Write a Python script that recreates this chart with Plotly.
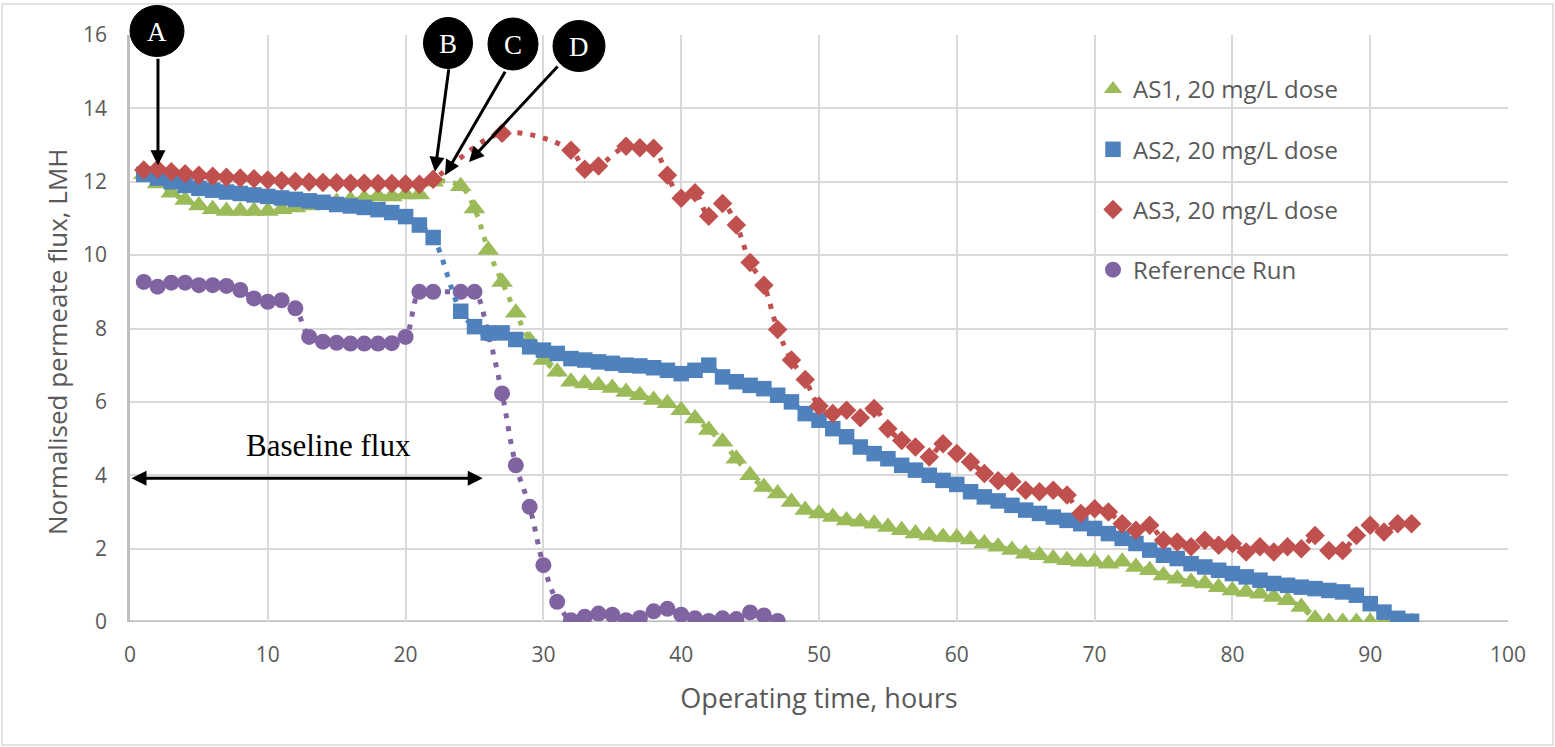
import plotly.graph_objects as go

# ---------------- data ----------------
as1_hours = list(range(1, 23)) + list(range(24, 94))
as1_flux = [12.2, 11.95, 11.7, 11.5, 11.35, 11.25, 11.2, 11.2, 11.2, 11.2,
            11.25, 11.3, 11.35, 11.4, 11.45, 11.5, 11.55, 11.6, 11.6, 11.65,
            11.65, 12.0,
            11.88, 11.27, 10.14, 9.27, 8.43, 7.68, 7.14, 6.82, 6.55, 6.5,
            6.45, 6.38, 6.27, 6.18, 6.05, 5.96, 5.77, 5.55, 5.23, 4.91,
            4.45, 4.0, 3.68, 3.5, 3.27, 3.05, 2.96, 2.86, 2.77, 2.73,
            2.68, 2.59, 2.5, 2.41, 2.36, 2.32, 2.3, 2.25, 2.14, 2.05,
            1.96, 1.86, 1.82, 1.73, 1.68, 1.64, 1.64, 1.59, 1.64, 1.5,
            1.41, 1.27, 1.18, 1.09, 1.05, 0.95, 0.86, 0.82, 0.77, 0.68,
            0.59, 0.41, 0.09, 0.0, 0.0, 0.0, 0.0, 0.0, 0.0, 0.0]

as2_hours = list(range(1, 23)) + list(range(24, 94))
as2_flux = [12.2, 12.1, 12.0, 11.9, 11.82, 11.77, 11.72, 11.68, 11.64, 11.6,
            11.56, 11.52, 11.48, 11.44, 11.38, 11.34, 11.3, 11.24, 11.16, 11.05,
            10.82, 10.48,
            8.47, 8.05, 7.88, 7.88, 7.7, 7.5, 7.41, 7.32, 7.18, 7.14,
            7.09, 7.05, 7.0, 6.98, 6.93, 6.86, 6.77, 6.86, 7.0, 6.68,
            6.55, 6.45, 6.36, 6.18, 6.0, 5.68, 5.5, 5.27, 5.05, 4.77,
            4.59, 4.45, 4.27, 4.14, 4.0, 3.86, 3.75, 3.55, 3.41, 3.3,
            3.18, 3.05, 2.96, 2.86, 2.77, 2.68, 2.55, 2.41, 2.28, 2.14,
            1.96, 1.82, 1.73, 1.59, 1.5, 1.41, 1.32, 1.23, 1.14, 1.05,
            1.0, 0.95, 0.91, 0.86, 0.82, 0.73, 0.5, 0.27, 0.1, 0.02]

as3_hours = list(range(1, 23)) + [27, 32, 33, 34] + list(range(36, 94))
as3_flux = [12.32, 12.35, 12.27, 12.22, 12.18, 12.15, 12.12, 12.1, 12.08, 12.05,
            12.03, 12.01, 11.99, 11.98, 11.97, 11.96, 11.96, 11.95, 11.95, 11.94,
            11.93, 12.07,
            13.32, 12.86, 12.34, 12.43,
            12.97, 12.93, 12.91, 12.18, 11.55, 11.7, 11.06, 11.41, 10.82, 9.8,
            9.18, 7.97, 7.14, 6.61, 5.89, 5.68, 5.77, 5.57, 5.82, 5.27,
            4.95, 4.77, 4.5, 4.86, 4.59, 4.36, 4.05, 3.85, 3.82, 3.59,
            3.55, 3.59, 3.46, 2.96, 3.09, 3.0, 2.68, 2.5, 2.64, 2.23,
            2.18, 2.05, 2.23, 2.09, 2.14, 1.91, 2.05, 1.91, 2.05, 2.0,
            2.36, 1.95, 1.95, 2.36, 2.64, 2.45, 2.68, 2.68]

ref_hours = list(range(1, 23)) + list(range(24, 48))
ref_flux = [9.27, 9.14, 9.25, 9.25, 9.18, 9.18, 9.16, 9.05, 8.82, 8.73,
            8.77, 8.55, 7.77, 7.64, 7.61, 7.59, 7.59, 7.59, 7.6, 7.77,
            9.0, 9.0,
            9.0, 9.0, 7.86, 6.23, 4.27, 3.14, 1.55, 0.55, 0.05, 0.14,
            0.23, 0.2, 0.05, 0.11, 0.29, 0.36, 0.2, 0.1, 0.03, 0.1,
            0.08, 0.26, 0.18, 0.03]

series_names = ["AS1, 20 mg/L dose", "AS2, 20 mg/L dose",
                "AS3, 20 mg/L dose", "Reference Run"]

# ---------------- layout helpers ----------------
W, H = 1555, 747
ML, MR, MT, MB = 130, 47, 35, 125
PW, PH = W - ML - MR, H - MT - MB


def px(x):
    return (x - ML) / PW


def py(y):
    return (H - MB - y) / PH


font_sans = "Open Sans"
grey_text = "#595959"

fig = go.Figure()

styles = {
    "AS1, 20 mg/L dose": dict(color="#9BBB59", symbol="triangle-up", size=19),
    "AS2, 20 mg/L dose": dict(color="#4F81BD", symbol="square", size=15.5),
    "AS3, 20 mg/L dose": dict(color="#C0504D", symbol="diamond", size=15),
    "Reference Run": dict(color="#8064A2", symbol="circle", size=16),
}
data = {
    "AS1, 20 mg/L dose": (as1_hours, as1_flux),
    "AS2, 20 mg/L dose": (as2_hours, as2_flux),
    "AS3, 20 mg/L dose": (as3_hours, as3_flux),
    "Reference Run": (ref_hours, ref_flux),
}

draw_order = ["Reference Run", "AS1, 20 mg/L dose",
              "AS2, 20 mg/L dose", "AS3, 20 mg/L dose"]
for name in draw_order:
    xs, ys = data[name]
    st = styles[name]
    fig.add_trace(go.Scatter(
        x=xs, y=ys, mode="lines", showlegend=False, hoverinfo="skip",
        line=dict(color=st["color"], width=5, dash="5px,8px",
                  shape="spline", smoothing=1.0),
    ))
    fig.add_trace(go.Scatter(
        x=xs, y=ys, mode="markers", name=name,
        legendrank=series_names.index(name) + 1,
        legendgroup=name,
        marker=dict(color=st["color"], symbol=st["symbol"], size=st["size"],
                    line=dict(width=0)),
    ))

shapes = []
# chart-area frame
shapes.append(dict(type="rect", xref="paper", yref="paper",
                   x0=px(2), x1=px(1553), y0=py(745), y1=py(4),
                   line=dict(color="#d9d9d9", width=1.5), layer="below"))

# letter bubbles
bubbles = [("A", 157, 31, 27, 25.5), ("B", 448, 43, 24.5, 25.5),
           ("C", 513, 44, 25, 26), ("D", 579, 46, 26, 25.5)]
annotations = []
for letter, cx, cy, rx, ry in bubbles:
    shapes.append(dict(type="circle", xref="paper", yref="paper",
                       x0=px(cx - rx), x1=px(cx + rx),
                       y0=py(cy + ry), y1=py(cy - ry),
                       fillcolor="black", line=dict(color="black", width=1),
                       layer="above"))
    annotations.append(dict(xref="paper", yref="paper", x=px(cx), y=py(cy + 1),
                            text=letter, showarrow=False,
                            font=dict(family="Liberation Serif", size=27, color="white"),
                            xanchor="center", yanchor="middle"))

# arrows from the bubbles (tip in data coords, tail offset in pixels)
arrows = [(2.03, 12.45, 0, -108), (22.13, 12.27, 14, -104),
          (22.86, 12.18, 61, -105), (24.6, 12.54, 90, -97)]
for x, y, ax, ay in arrows:
    annotations.append(dict(x=x, y=y, xref="x", yref="y", text="",
                            showarrow=True, arrowhead=2, arrowsize=1,
                            arrowwidth=3, arrowcolor="black",
                            ax=ax, ay=ay, standoff=0))

# baseline flux double arrow
annotations.append(dict(x=25.6, y=3.92, xref="x", yref="y", ax=0, ay=3.92,
                        axref="x", ayref="y", text="", showarrow=True,
                        arrowhead=2, startarrowhead=2, arrowside="end+start",
                        arrowsize=1, startarrowsize=1, arrowwidth=3,
                        arrowcolor="black"))
annotations.append(dict(x=14.44, y=4.82, xref="x", yref="y",
                        text="Baseline flux", showarrow=False,
                        font=dict(family="Liberation Serif", size=31, color="black"),
                        xanchor="center", yanchor="middle"))

# y-axis title (placed as annotation to match its off-centre position)
annotations.append(dict(xref="paper", yref="paper", x=px(57), y=py(342),
                        text="Normalised permeate flux, LMH", textangle=-90,
                        showarrow=False, xanchor="center", yanchor="middle",
                        font=dict(family=font_sans, size=26, color=grey_text)))

fig.update_layout(
    width=W, height=H,
    margin=dict(l=ML, r=MR, t=MT, b=MB),
    paper_bgcolor="white", plot_bgcolor="white",
    font=dict(family=font_sans, color=grey_text),
    showlegend=True,
    legend=dict(x=px(1093), y=py(67), xanchor="left", yanchor="top",
                bgcolor="rgba(0,0,0,0)", font=dict(size=24, color=grey_text),
                tracegroupgap=26, itemsizing="trace"),
    shapes=shapes,
    annotations=annotations,
    xaxis=dict(range=[0, 100], dtick=10, tick0=0,
               showgrid=True, gridcolor="#d9d9d9", gridwidth=2,
               zeroline=False, showline=False,
               tickfont=dict(size=21, color=grey_text),
               ticks="", ticklabelstandoff=18,
               title=dict(text="Operating time, hours",
                          font=dict(size=27, color=grey_text), standoff=22)),
    yaxis=dict(range=[0, 16], dtick=2, tick0=0,
               showgrid=True, gridcolor="#d9d9d9", gridwidth=2,
               zeroline=False, showline=True, linecolor="#bfbfbf", linewidth=2.5,
               tickfont=dict(size=21, color=grey_text),
               ticks="", ticklabelstandoff=16),
)
# x axis baseline (y = 0) drawn as thick grey line
fig.add_shape(type="line", xref="x", yref="y", x0=0, x1=100, y0=0, y1=0,
              line=dict(color="#bfbfbf", width=3.5), layer="below")

fig.write_html("out.html")
